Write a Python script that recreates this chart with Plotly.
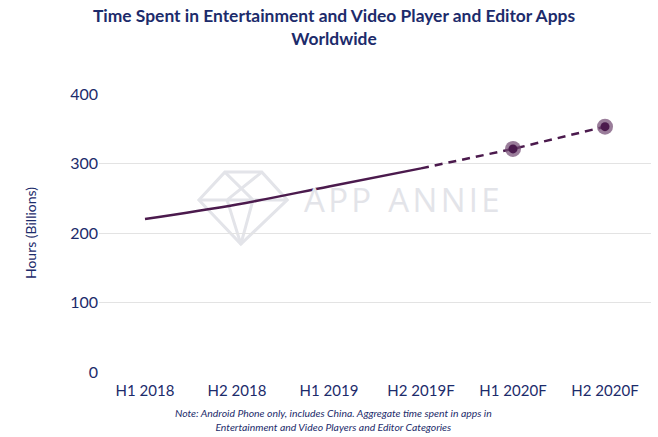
import plotly.graph_objects as go

categories = ["H1 2018", "H2 2018", "H1 2019", "H2 2019F", "H1 2020F", "H2 2020F"]
hours = [220, 241, 267, 293, 321, 353]
actual_idx = [0, 1, 2, 3]
forecast_idx = [3, 4, 5]
marker_idx = [4, 5]

navy = "#1c2b6b"
purple = "#4b1a4d"

fig = go.Figure()
fig.add_trace(go.Scatter(
    x=[categories[i] for i in actual_idx], y=[hours[i] for i in actual_idx],
    mode="lines", line=dict(color=purple, width=2.5, shape="spline"), showlegend=False))
fig.add_trace(go.Scatter(
    x=[categories[i] for i in forecast_idx], y=[hours[i] for i in forecast_idx],
    mode="lines", line=dict(color=purple, width=2.5, dash="8px,6px"), showlegend=False))
fig.add_trace(go.Scatter(
    x=[categories[i] for i in marker_idx], y=[hours[i] for i in marker_idx],
    mode="markers", marker=dict(color="rgba(115,75,115,0.72)", size=16), showlegend=False))
fig.add_trace(go.Scatter(
    x=[categories[i] for i in marker_idx], y=[hours[i] for i in marker_idx],
    mode="markers", marker=dict(color=purple, size=9), showlegend=False))

wm = "#e3e4e9"
# diamond watermark
fig.add_shape(type="path", xref="paper", yref="paper",
              path="M 0.181 0.619 L 0.228 0.719 L 0.295 0.719 L 0.341 0.619 L 0.257 0.460 Z",
              line=dict(color=wm, width=3), layer="below")
fig.add_shape(type="path", xref="paper", yref="paper",
              path="M 0.181 0.619 L 0.341 0.619 M 0.228 0.719 L 0.279 0.619 L 0.257 0.460 M 0.295 0.719 L 0.232 0.619 L 0.257 0.460",
              line=dict(color=wm, width=3), layer="below")
hs = "\u200a"
fig.add_annotation(text=hs.join("APP") + "  " + hs.join("ANNIE"), xref="paper", yref="paper", x=0.368, y=0.619,
                   xanchor="left", yanchor="middle", showarrow=False,
                   font=dict(family="Open Sans", size=33, color=wm))

fig.add_annotation(text="<b>Time Spent in Entertainment and Video Player and Editor Apps<br>Worldwide</b>",
                   xref="paper", yref="paper", x=0.425, y=1.328, xanchor="center", yanchor="top",
                   showarrow=False, align="center",
                   font=dict(family="Lato", size=17.4, color=navy))

fig.add_annotation(text="<i>Note: Android Phone only, includes China. Aggregate time spent in apps in<br>Entertainment and Video Players and Editor Categories</i>",
                   xref="paper", yref="paper", x=0.425, y=-0.118, xanchor="center", yanchor="top",
                   showarrow=False, align="center",
                   font=dict(family="Lato", size=10.4, color=navy))

fig.update_layout(
    width=658, height=437,
    paper_bgcolor="white", plot_bgcolor="white",
    margin=dict(l=99, r=7, t=94, b=65),
    xaxis=dict(type="category", categoryorder="array", categoryarray=categories,
               range=[-0.5, 5.5], showgrid=False, showline=False, ticks="",
               ticklabelstandoff=8,
               tickfont=dict(family="Lato", size=15, color=navy)),
    yaxis=dict(range=[0, 400], tickvals=[0, 100, 200, 300, 400], showgrid=True,
               gridcolor="#e3e3e3", gridwidth=1, zeroline=False, showline=False,
               ticks="", ticklen=0, tickfont=dict(family="Lato", size=16, color=navy),
               title=dict(text="Hours (Billions)", standoff=30,
                          font=dict(family="Lato", size=14, color=navy))),
)

fig.write_html("out.html", config={"displayModeBar": False},
               post_script="document.body.style.margin='0';document.body.style.overflow='hidden';")
